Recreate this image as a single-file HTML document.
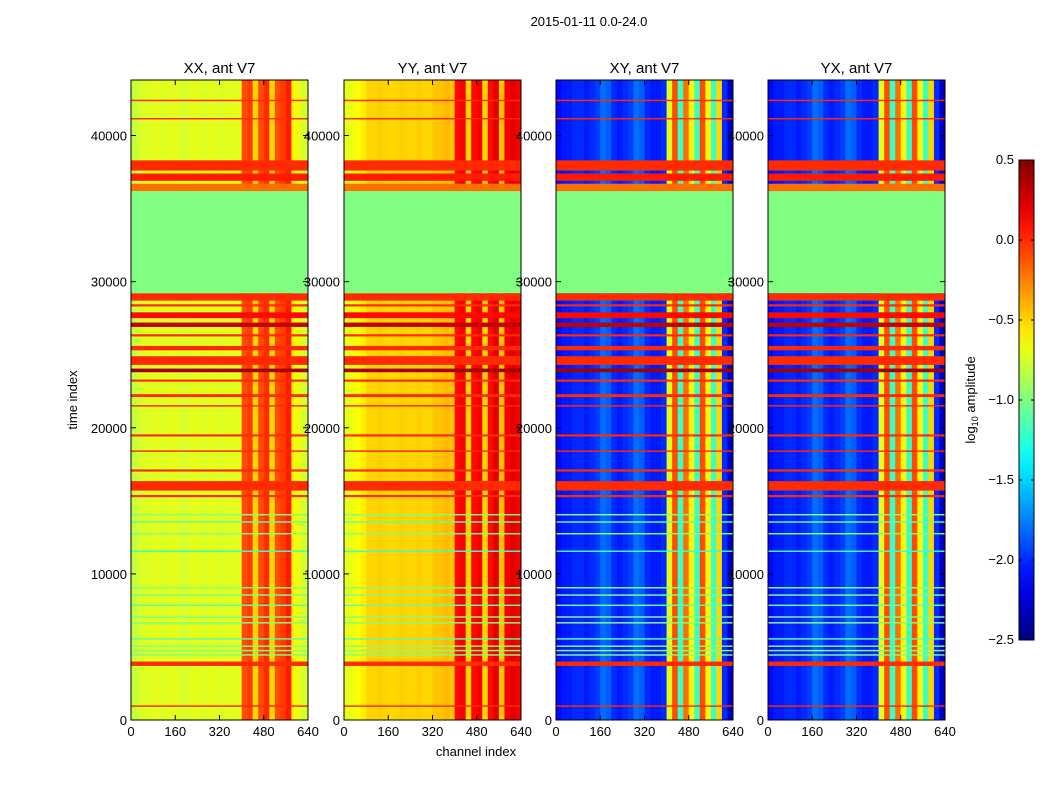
<!DOCTYPE html>
<html><head><meta charset="utf-8"><style>
html,body{margin:0;padding:0;background:#fff;width:1050px;height:800px;overflow:hidden}
svg text{font-family:"Liberation Sans",sans-serif;font-size:13px;fill:#000}
</style></head><body>
<svg id="fig" width="1050" height="800" xmlns="http://www.w3.org/2000/svg">
<text x="589" y="26" text-anchor="middle">2015-01-11 0.0-24.0</text>
<text x="476" y="756" text-anchor="middle">channel index</text>
<text transform="translate(77,400) rotate(-90)" text-anchor="middle">time index</text>
<text transform="translate(975,400) rotate(-90)" text-anchor="middle">log<tspan font-size="9" dy="3">10</tspan><tspan dy="-3"> amplitude</tspan></text>
<defs><linearGradient id="cbg" x1="0" y1="1" x2="0" y2="0"></linearGradient></defs>
</svg>
<script>
const panelTitles=["XX, ant V7","YY, ant V7","XY, ant V7","YX, ant V7"];
const xTicks=[0,160,320,480,640];
const yTicks=[0,10000,20000,30000,40000];
const cbTicks=[0.5,0.0,-0.5,-1.0,-1.5,-2.0,-2.5];
const colXX=[-0.8,-0.75,-0.72,-0.72,-0.7,-0.72,-0.72,-0.7,-0.72,-0.74,-0.72,-0.7,-0.72,-0.72,-0.7,-0.72,-0.72,-0.7,-0.72,-0.7,-0.1,-0.05,-0.5,-0.1,0.0,-0.5,-0.1,-0.05,0.05,-0.6,-0.7,-0.75];
const colYY=[-0.7,-0.68,-0.62,-0.58,-0.5,-0.5,-0.48,-0.5,-0.52,-0.5,-0.48,-0.5,-0.5,-0.48,-0.5,-0.5,-0.45,-0.45,-0.42,-0.45,0.1,0.15,-0.5,0.1,0.15,-0.5,0.1,0.2,-0.45,0.15,0.2,0.15];
const colXY=[-2.1,-2.05,-2.05,-2.0,-2.0,-2.05,-2.0,-1.95,-1.8,-1.85,-2.0,-2.05,-2.0,-1.95,-1.8,-1.85,-2.0,-2.05,-2.05,-2.0,-0.7,-0.1,-1.2,-0.2,-0.6,-1.2,-0.1,-0.6,-1.2,-0.5,-2.0,-2.3];
const colYX=[-2.1,-2.05,-2.05,-2.0,-2.0,-2.05,-2.0,-1.95,-1.8,-1.85,-2.0,-2.05,-2.0,-1.95,-1.8,-1.85,-2.0,-2.05,-2.05,-2.0,-0.7,-0.1,-1.2,-0.2,-0.6,-1.2,-0.1,-0.6,-1.2,-0.5,-2.0,-2.3];
const bandStart=[42350,41100,37600,36900,36200,29200,28700,28300,27500,26900,26250,25300,24300,23800,23150,22100,21450,19400,18350,17000,15700,15250,14000,13500,12700,11500,9000,8500,7800,7000,6600,5500,5000,4700,4400,3700,900];
const bandEnd=[42450,41200,38300,37400,36700,36200,29200,28450,27900,27200,26400,25600,24900,24050,23300,22300,21550,19550,18450,17150,16350,15400,14100,13600,12800,11600,9100,8600,7900,7100,6700,5600,5100,4800,4500,4000,1000];
const bandValue=[0.0,0.0,0.0,0.05,-0.2,-1.0,0.0,0.0,0.1,0.3,0.0,0.0,0.0,0.4,0.0,0.0,0.0,0.0,0.0,0.0,0.0,0.0,-1.0,-1.1,-1.0,-1.2,-1.0,-1.0,-1.1,-1.0,-1.0,-1.1,-1.0,-1.0,-1.0,0.0,0.0];
const cols=[colXX,colYY,colXY,colYX];
const panelX=[131,344,556,768], PW=177, PT=80, PB=720, TMAX=43800, CMAX=640, VMIN=-2.5, VMAX=0.5;
const svg=document.getElementById('fig'), NS="http://www.w3.org/2000/svg";
function jet(v){let x=Math.max(0,Math.min(1,(v-VMIN)/(VMAX-VMIN)));
 const c=t=>Math.round(255*Math.max(0,Math.min(1,1.5-Math.abs(t))));
 return `rgb(${c(4*x-3)},${c(4*x-2)},${c(4*x-1)})`;}
function mk(tag,attrs,parent){const e=document.createElementNS(NS,tag);for(const k in attrs)e.setAttribute(k,attrs[k]);(parent||svg).appendChild(e);return e;}
panelX.forEach((x0,p)=>{
 const xs=c=>x0+c/CMAX*PW, ys=t=>PB-t/TMAX*(PB-PT);
 const g=mk('g',{});
 
 
 const col=cols[p], seg=CMAX/col.length;
 col.forEach((v,i)=>{const r=mk('rect',{x:xs(i*seg),y:PT,width:xs((i+1)*seg)-xs(i*seg)+0.3,height:PB-PT,fill:jet(v)},g);
  
  });
 bandStart.forEach((s,i)=>{const r=mk('rect',{x:x0,y:ys(bandEnd[i]),width:PW,height:Math.max(1,ys(bandStart[i])-ys(bandEnd[i])),fill:jet(bandValue[i])},g);
  
  });
 mk('rect',{x:x0,y:PT,width:PW,height:PB-PT,fill:'none',stroke:'#000','stroke-width':1},g);
 const t=mk('text',{x:x0+PW/2,y:PT-7,'text-anchor':'middle'},g);t.textContent=panelTitles[p];
 t.style.fontSize='15px';
 
 
 xTicks.forEach(c=>{const X=xs(c);mk('line',{x1:X,x2:X,y1:PB,y2:PB-5,stroke:'#000'},g);mk('line',{x1:X,x2:X,y1:PT,y2:PT+5,stroke:'#000'},g);
  const tt=mk('text',{x:X,y:PB+16,'text-anchor':'middle'},g);tt.textContent=c;
  
  });
 yTicks.forEach(v=>{const Y=ys(v);mk('line',{x1:x0,x2:x0+5,y1:Y,y2:Y,stroke:'#000'},g);mk('line',{x1:x0+PW,x2:x0+PW-5,y1:Y,y2:Y,stroke:'#000'},g);
  const tt=mk('text',{x:x0-4,y:Y+5,'text-anchor':'end'},g);tt.textContent=v;
  
  });
});
// colorbar
const grad=document.getElementById('cbg');
for(let i=0;i<=20;i++){mk('stop',{offset:(i/20),'stop-color':jet(VMIN+i/20*(VMAX-VMIN))},grad);}
const CBX=1019,CBW=15,CBT=160,CBB=640;
const cb=mk('rect',{x:CBX,y:CBT,width:CBW,height:CBB-CBT,fill:'url(#cbg)',stroke:'#000'});


cbTicks.forEach(v=>{const Y=CBB-(v-VMIN)/(VMAX-VMIN)*(CBB-CBT);
 mk('line',{x1:CBX,x2:CBX+3,y1:Y,y2:Y,stroke:'#000'});
 mk('line',{x1:CBX+CBW-3,x2:CBX+CBW,y1:Y,y2:Y,stroke:'#000'});
 const tt=mk('text',{x:1014,y:Y+4,'text-anchor':'end'});tt.textContent=v.toFixed(1).replace('-','\u2212');
 
 });
</script>
</body></html>
